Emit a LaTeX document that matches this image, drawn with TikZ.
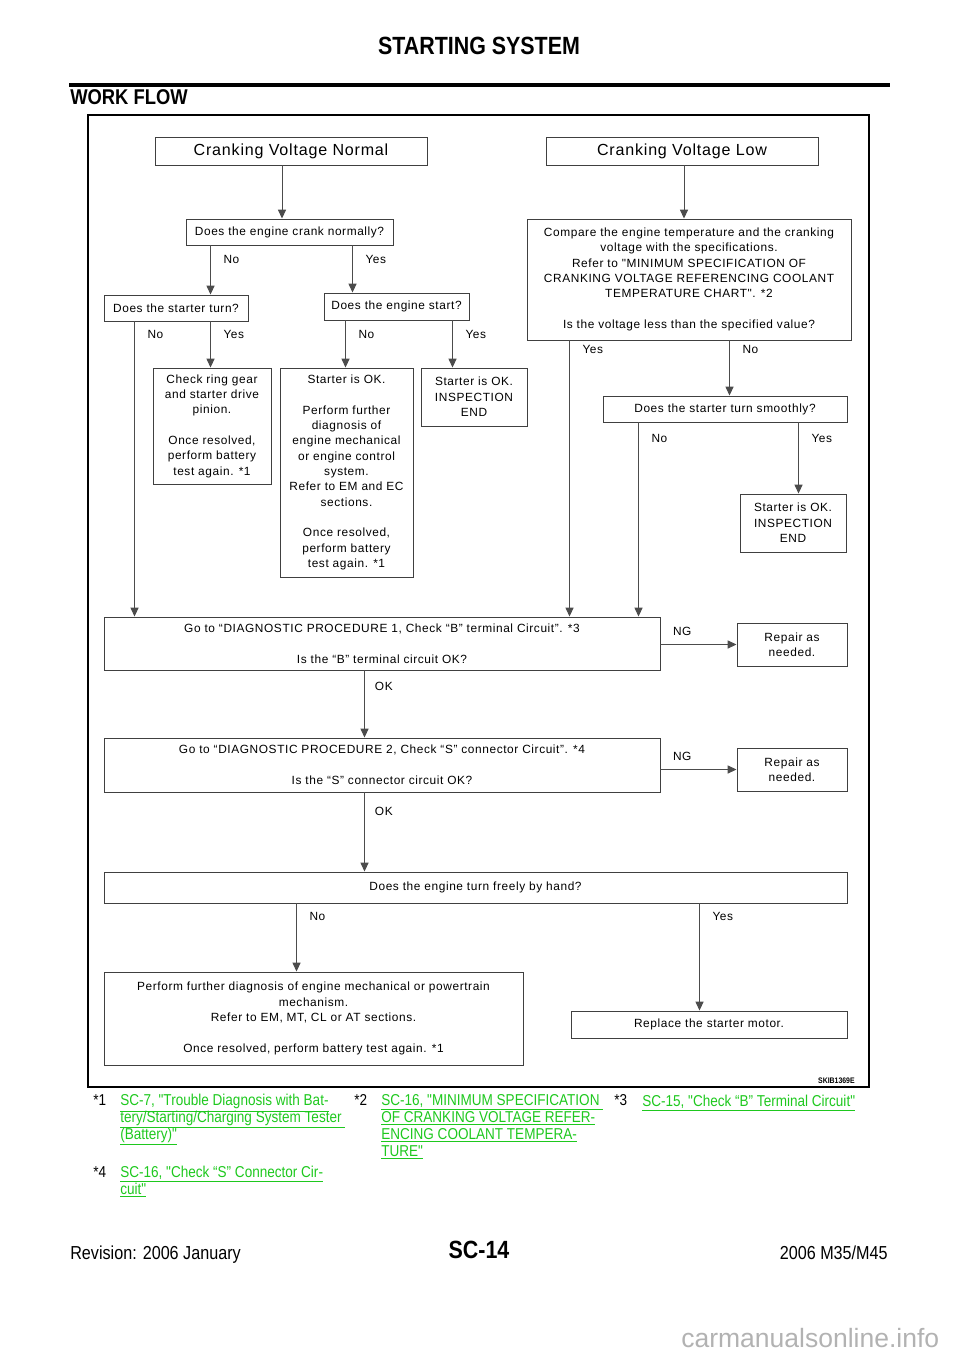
\documentclass[tikz,border=0pt]{standalone}
\usepackage{fontspec}
\setmainfont{Liberation Sans}
\newfontfamily\flowfont[LetterSpace=5]{Liberation Sans}
\newfontfamily\narrowfont[FakeStretch=0.86]{Liberation Sans}
\usetikzlibrary{arrows.meta,calc}
\newlength\pxu
\setlength\pxu{0.21875mm}
\definecolor{linkgreen}{RGB}{30,200,30}
\newcommand\flowtext{\flowfont\fontsize{7.4}{9.55}\selectfont}
\newcommand\lnk[1]{\smash{\underline{#1}}}

\begin{document}
\begin{tikzpicture}[x=0.21875mm, y=-0.21875mm,
    box/.style={draw=black!75, line width=0.6pt, inner sep=0pt, align=center, font=\flowtext},
    flow/.style={draw=black!70, line width=0.6pt, -{Triangle[width=5pt,length=5.5pt]}},
    yn/.style={anchor=north west, inner sep=0pt, xshift=7.8pt, yshift=-#1, font=\flowtext},
    yn/.default=5.6pt,
    ng/.style={anchor=south west, inner sep=0pt, xshift=7.5pt, yshift=5pt, font=\flowtext},
    link/.style={anchor=north west, inner sep=0pt, align=left, text=linkgreen, font=\narrowfont\fontsize{9.8}{10.55}\selectfont},
    star/.style={anchor=base west, inner sep=0pt, font=\narrowfont\fontsize{9.8}{10.55}\selectfont}]
\useasboundingbox (0,0) rectangle (960,1358);

\node[anchor=base, inner sep=0pt, font=\narrowfont\bfseries\fontsize{15.5}{18}\selectfont] (title) at (479,54) {STARTING SYSTEM};
\draw[line width=1.9pt] (69,85) -- (890,85);
\node[anchor=base west, inner sep=0pt, font=\narrowfont\bfseries\fontsize{13.3}{16}\selectfont] (wf) at (70,104) {WORK FLOW};
\draw[line width=1.2pt] (88,115) rectangle (869,1087);

\node[box, minimum width=272*\pxu, minimum height=28*\pxu, font=\flowfont\fontsize{10}{12}\selectfont] (CVN) at (291,151) {Cranking Voltage Normal};
\node[box, minimum width=272*\pxu, minimum height=28*\pxu, font=\flowfont\fontsize{10}{12}\selectfont] (CVL) at (682,151) {Cranking Voltage Low};
\node[box, minimum width=207*\pxu, minimum height=26*\pxu] (Crank) at (289.5,232) {Does the engine crank normally?};
\node[box, minimum width=144*\pxu, minimum height=26*\pxu] (StTurn) at (176,308) {Does the starter turn?};
\node[box, minimum width=145*\pxu, minimum height=27*\pxu] (EngStart) at (396.5,306.5) {Does the engine start?};
\node[box, minimum width=118*\pxu, minimum height=116*\pxu] (Ring) at (212,426) {Check ring gear\\ and starter drive\\ pinion.\\[9.55pt] Once resolved,\\ perform battery\\ test again. *1};
\node[box, minimum width=133*\pxu, minimum height=209*\pxu] (OkA) at (346.5,472.5) {Starter is OK.\\[9.55pt] Perform further\\ diagnosis of\\ engine mechanical\\ or engine control\\ system.\\ Refer to EM and EC\\ sections.\\[9.55pt] Once resolved,\\ perform battery\\ test again. *1};
\node[box, minimum width=106*\pxu, minimum height=58*\pxu] (OkB) at (474,397) {Starter is OK.\\ INSPECTION\\ END};
\node[box, minimum width=324*\pxu, minimum height=121*\pxu] (Compare) at (689,279.5) {Compare the engine temperature and the cranking\\ voltage with the specifications.\\ Refer to "MINIMUM SPECIFICATION OF\\ CRANKING VOLTAGE REFERENCING COOLANT\\ TEMPERATURE CHART". *2\\[9.55pt] Is the voltage less than the specified value?};
\node[box, minimum width=244*\pxu, minimum height=26*\pxu] (Smooth) at (725,409) {Does the starter turn smoothly?};
\node[box, minimum width=106*\pxu, minimum height=58*\pxu] (OkC) at (793,523) {Starter is OK.\\ INSPECTION\\ END};
\node[box, minimum width=556*\pxu, minimum height=53*\pxu] (DiagB) at (382,643.5) {Go to “DIAGNOSTIC PROCEDURE 1, Check “B” terminal Circuit”. *3\\[9.55pt] Is the “B” terminal circuit OK?};
\node[box, minimum width=110*\pxu, minimum height=43*\pxu] (RepB) at (792,644.5) {Repair as\\ needed.};
\node[box, minimum width=556*\pxu, minimum height=54*\pxu] (DiagS) at (382,765) {Go to “DIAGNOSTIC PROCEDURE 2, Check “S” connector Circuit”. *4\\[9.55pt] Is the “S” connector circuit OK?};
\node[box, minimum width=110*\pxu, minimum height=43*\pxu] (RepS) at (792,769.5) {Repair as\\ needed.};
\node[box, minimum width=743*\pxu, minimum height=31*\pxu] (Freely) at (475.5,887.5) {Does the engine turn freely by hand?};
\node[box, minimum width=419*\pxu, minimum height=93*\pxu] (Further) at (313.5,1018.5) {Perform further diagnosis of engine mechanical or powertrain\\ mechanism.\\ Refer to EM, MT, CL or AT sections.\\[9.55pt] Once resolved, perform battery test again. *1};
\node[box, minimum width=276*\pxu, minimum height=27*\pxu] (Replace) at (709,1024.5) {Replace the starter motor.};
\node[anchor=base east, inner sep=0pt, font=\narrowfont\bfseries\fontsize{5}{6}\selectfont] (skib) at (855,1083) {SKIB1369E};

\draw[flow] ($(CVN.south)+(-9,0)$) coordinate (cvnOut) -- (cvnOut |- Crank.north);
\draw[flow] ($(CVL.south)+(2,0)$) coordinate (cvlOut) -- (cvlOut |- Compare.north);
\draw[flow] ($(Crank.south west)+(25,0)$) coordinate (crankNo) node[yn] {No} -- (crankNo |- StTurn.north);
\draw[flow] ($(Crank.south west)+(167,0)$) coordinate (crankYes) node[yn] {Yes} -- (crankYes |- EngStart.north);
\draw[flow] ($(StTurn.south west)+(31,0)$) coordinate (turnNo) node[yn=5pt] {No} -- (turnNo |- DiagB.north);
\draw[flow] ($(StTurn.south west)+(107,0)$) coordinate (turnYes) node[yn=5pt] {Yes} -- (turnYes |- Ring.north);
\draw[flow] ($(EngStart.south west)+(22,0)$) coordinate (startNo) node[yn] {No} -- (startNo |- OkA.north);
\draw[flow] ($(EngStart.south west)+(129,0)$) coordinate (startYes) node[yn] {Yes} -- (startYes |- OkB.north);
\draw[flow] ($(Compare.south west)+(43,0)$) coordinate (cmpYes) node[yn=3pt] {Yes} -- (cmpYes |- DiagB.north);
\draw[flow] ($(Compare.south west)+(203,0)$) coordinate (cmpNo) node[yn=3pt] {No} -- (cmpNo |- Smooth.north);
\draw[flow] ($(Smooth.south west)+(36,0)$) coordinate (smNo) node[yn=6.8pt] {No} -- (smNo |- DiagB.north);
\draw[flow] ($(Smooth.south west)+(196,0)$) coordinate (smYes) node[yn=6.8pt] {Yes} -- (smYes |- OkC.north);
\draw[flow] (DiagB.east |- RepB.west) node[ng] {NG} -- (RepB.west);
\draw[flow] (DiagS.east |- RepS.west) node[ng] {NG} -- (RepS.west);
\draw[flow] ($(DiagB.south west)+(261,0)$) coordinate (bOk) node[yn=6.8pt, xshift=-1.6pt] {OK} -- (bOk |- DiagS.north);
\draw[flow] ($(DiagS.south west)+(261,0)$) coordinate (sOk) node[yn=8.6pt, xshift=-1.6pt] {OK} -- (sOk |- Freely.north);
\draw[flow] ($(Freely.south west)+(193,0)$) coordinate (frNo) node[yn=5pt] {No} -- (frNo |- Further.north);
\draw[flow] ($(Freely.south west)+(596,0)$) coordinate (frYes) node[yn=5pt] {Yes} -- (frYes |- Replace.north);

\node[star] (n1) at (93,1105) {*1};
\node[link] (l1) at (120,1105) {\lnk{SC-7, "Trouble Diagnosis with Bat-}\\ \lnk{tery/Starting/Charging System Tester }\\ \lnk{(Battery)"}};
\node[star] (n2) at (354,1105) {*2};
\node[link] (l2) at (381,1105) {\lnk{SC-16, "MINIMUM SPECIFICATION }\\ \lnk{OF CRANKING VOLTAGE REFER-}\\ \lnk{ENCING COOLANT TEMPERA-}\\ \lnk{TURE"}};
\node[star] (n3) at (614,1105) {*3};
\node[link] (l3) at (642,1105) {\lnk{SC-15, "Check “B” Terminal Circuit"}};
\node[star] (n4) at (93,1177) {*4};
\node[link] (l4) at (120,1177) {\lnk{SC-16, "Check “S” Connector Cir-}\\ \lnk{cuit"}};

\node[anchor=base west, inner sep=0pt, font=\narrowfont\fontsize{11.7}{14}\selectfont] (rev) at (70,1259) {Revision: 2006 January};
\node[anchor=base, inner sep=0pt, font=\narrowfont\bfseries\fontsize{15.5}{18}\selectfont] (page) at (479,1258) {SC-14};
\node[anchor=base east, inner sep=0pt, font=\narrowfont\fontsize{11.7}{14}\selectfont] (model) at (888,1259) {2006 M35/M45};
\node[anchor=base west, inner sep=0pt, text=black!30, font=\fontsize{16.5}{18}\selectfont] (wm) at (681,1347) {carmanualsonline.info};
\end{tikzpicture}
\end{document}
